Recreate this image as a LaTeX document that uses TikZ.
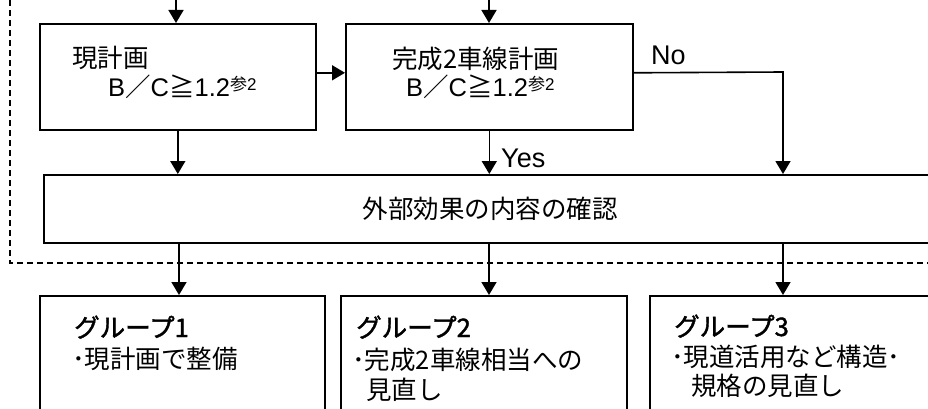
\documentclass[tikz,border=0pt]{standalone}
\usepackage{fontspec}
\setmainfont{Liberation Sans}
\newfontfamily\jp{Noto Sans CJK JP}
\newfontfamily\jpb{Noto Sans CJK JP}[FakeBold=1.6]
\usetikzlibrary{arrows.meta}
\tikzset{
  box/.style={draw, line width=1.6pt, inner sep=0pt, anchor=north west},
  arr/.style={line width=1.6pt, -{Triangle[width=15pt,length=13pt]}},
  dashline/.style={line width=1.3pt, dash pattern=on 6pt off 4pt},
  txt/.style={anchor=base west, inner sep=0pt, font=\fontsize{25.5}{30}\selectfont},
  lbl/.style={anchor=base west, inner sep=0pt, font=\fontsize{27}{30}\selectfont},
}
\newcommand{\bcline}{B{\jp ／}C{\jp ≧}1.2\raisebox{6.5pt}{\fontsize{17}{17}\selectfont{\jp 参}2}}
\begin{document}
\begin{tikzpicture}[x=1pt,y=-1pt]
\useasboundingbox (0,0) rectangle (928,409);
\clip (0,0) rectangle (928,409);
% dashed frame
\coordinate (dtop) at (10,0);
\coordinate (dcorner) at (10,263);
\coordinate (dright) at (928,263);
\draw[dashline] (dtop) -- (dcorner) -- (dright);
% boxes
\node[box, minimum width=276pt, minimum height=106pt] (b1) at (39,23) {};
\node[box, minimum width=287pt, minimum height=106pt] (b2) at (345,23) {};
\node[box, minimum width=892pt, minimum height=68pt] (ext) at (43,174) {};
\node[box, minimum width=285pt, minimum height=130pt] (g1) at (39,295) {};
\node[box, minimum width=286pt, minimum height=130pt] (g2) at (340,295) {};
\node[box, minimum width=300pt, minimum height=130pt] (g3) at (649,295) {};
% top arrows
\coordinate (t1) at (176,0);
\coordinate (t2) at (489,0);
\draw[arr] (t1) -- (t1 |- b1.north);
\draw[arr] (t2) -- (t2 |- b2.north);
% between boxes
\draw[arr] ([yshift=4pt]b1.east) -- ([yshift=4pt]b2.west);
% No path
\coordinate (nc) at (783,72);
\draw[arr] ([yshift=4pt]b2.east) -- (nc) -- (nc |- ext.north);
% down arrows
\draw[arr] (b1.south) -- (b1.south |- ext.north);
\draw[arr] (b2.south) -- (b2.south |- ext.north);
\coordinate (c1) at (179,0);
\coordinate (c2) at (489,0);
\coordinate (c3) at (783,0);
\draw[arr] (c1 |- ext.south) -- (c1 |- g1.north);
\draw[arr] (c2 |- ext.south) -- (c2 |- g2.north);
\draw[arr] (c3 |- ext.south) -- (c3 |- g3.north);
% texts
\node[txt] (t1a) at (72,68) {\jp 現計画};
\node[txt] (t1b) at (108,97) {\bcline};
\node[txt] (t2a) at (392,69) {\jp 完成2車線計画};
\node[txt] (t2b) at (406,97) {\bcline};
\node[lbl] (no) at (651,65) {No};
\node[lbl] (yes) at (501,167) {Yes};
\node[txt, anchor=base] (extt) at (490,218) {\jp 外部効果の内容の確認};
\node[txt] (g1a) at (74,337) {\jpb グループ1};
\node[txt] (g1b) at (72,368) {\jp ･現計画で整備};
\node[txt] (g2a) at (356,337) {\jpb グループ2};
\node[txt] (g2b) at (352,369) {\jp ･完成2車線相当への};
\node[txt] (g2c) at (366,399) {\jp 見直し};
\node[txt] (g3a) at (674,336) {\jpb グループ3};
\node[txt] (g3b) at (671,366) {\jp ･現道活用など構造･};
\node[txt] (g3c) at (691,395) {\jp 規格の見直し};
\end{tikzpicture}
\end{document}
